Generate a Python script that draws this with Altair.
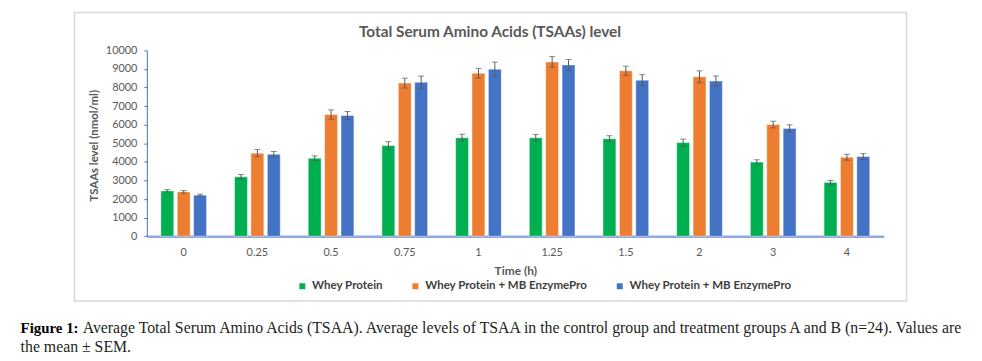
import altair as alt
import pandas as pd

# ---------------- data ----------------
times = ["0", "0.25", "0.5", "0.75", "1", "1.25", "1.5", "2", "3", "4"]
groups = ["Control", "Group A", "Group B"]
legend_names = ["Whey Protein", "Whey Protein + MB EnzymePro", "Whey Protein + MB EnzymePro"]
colors = ["#00B050", "#ED7D31", "#4472C4"]

whey = [2440, 3200, 4200, 4880, 5300, 5300, 5250, 5040, 3990, 2900]
whey_sem = [70, 125, 125, 210, 190, 180, 160, 190, 125, 100]
mb_a = [2390, 4470, 6550, 8240, 8770, 9380, 8900, 8580, 6010, 4250]
mb_a_sem = [70, 195, 250, 265, 265, 285, 250, 320, 180, 160]
mb_b = [2210, 4410, 6500, 8290, 8990, 9220, 8400, 8350, 5800, 4290]
mb_b_sem = [55, 150, 210, 330, 380, 295, 295, 275, 195, 160]
y_ticks = [0, 1000, 2000, 3000, 4000, 5000, 6000, 7000, 8000, 9000, 10000]

title_text = "Total Serum Amino Acids (TSAAs) level"
y_title = "TSAAs level (nmol/ml)"
x_title = "Time (h)"
caption_bold = "Figure 1:"
caption_line1 = ("Average Total Serum Amino Acids (TSAA). Average levels of TSAA in the control "
                 "group and treatment groups A and B (n=24). Values are")
caption_line2 = "the mean \u00b1 SEM."

rows = []
for g, vals, sems in zip(groups, [whey, mb_a, mb_b], [whey_sem, mb_a_sem, mb_b_sem]):
    for t, v, s in zip(times, vals, sems):
        rows.append({"time": t, "group": g, "value": v, "lo": v - s, "hi": v + s})
df = pd.DataFrame(rows)

FONT = "Lato"
SERIF = "Liberation Serif"

label_expr = " : ".join(
    f"datum.label == '{g}' ? '{n}'" for g, n in zip(groups[:-1], legend_names[:-1])
) + f" : '{legend_names[-1]}'"

x_axis = alt.Axis(title=x_title, labelAngle=0, tickSize=0, labelPadding=10,
                  domainColor="#8FAADC", domainWidth=2.5,
                  labelColor="#595959", labelFont=FONT, labelFontSize=11,
                  titleFont=FONT, titleFontSize=12, titleFontWeight="bold",
                  titleColor="#595959", titleY=35, titleBaseline="middle")
y_axis = alt.Axis(title=y_title, values=y_ticks, format="d", labelOverlap=False,
                  grid=False,
                  domainColor="#4472C4", tickColor="#4472C4", tickSize=3,
                  labelPadding=7, labelColor="#595959", labelFont=FONT,
                  labelFontSize=11, titleFont=FONT, titleFontSize=11.5,
                  titleFontWeight="bold", titleColor="#595959",
                  titleX=-53, titleY=95.7, titleAngle=270,
                  titleAlign="center", titleBaseline="middle")

x_enc = alt.X("time:N", sort=times,
              scale=alt.Scale(paddingInner=0.38, paddingOuter=0.19), axis=x_axis)
xo_enc = alt.XOffset("group:N", sort=groups,
                     scale=alt.Scale(paddingInner=0.212, paddingOuter=0))
y_scale = alt.Scale(domain=[0, 10000], nice=False)

base = alt.Chart(df)

bars = base.mark_bar(stroke="white", strokeOpacity=0.45, strokeWidth=1).encode(
    x=x_enc,
    xOffset=xo_enc,
    y=alt.Y("value:Q", scale=y_scale, axis=y_axis),
    color=alt.Color("group:N", sort=groups,
                    scale=alt.Scale(domain=groups, range=colors),
                    legend=alt.Legend(title=None, orient="none", direction="horizontal",
                                      legendX=151, legendY=231.7,
                                      symbolType="square", symbolSize=36,
                                      symbolStrokeWidth=0, labelOffset=4,
                                      columnPadding=27, labelFont=FONT, labelLimit=400,
                                      labelFontSize=11.6, labelFontWeight="bold",
                                      labelColor="#404040", labelExpr=label_expr)),
)

err = base.mark_rule(color="#595959", strokeWidth=1).encode(
    x=x_enc, xOffset=xo_enc,
    y=alt.Y("lo:Q", scale=y_scale, axis=y_axis), y2="hi:Q",
)
cap_lo = base.mark_tick(color="#595959", size=6, thickness=1).encode(
    x=x_enc, xOffset=xo_enc, y=alt.Y("lo:Q", scale=y_scale, axis=y_axis),
)
cap_hi = base.mark_tick(color="#595959", size=6, thickness=1).encode(
    x=x_enc, xOffset=xo_enc, y=alt.Y("hi:Q", scale=y_scale, axis=y_axis),
)

one = alt.Data(values=[{"k": 1}])
frame = alt.Chart(one).mark_rect(filled=False, stroke="#D9D9D9", strokeWidth=1.5).encode(
    x=alt.value(-73), x2=alt.value(766), y=alt.value(-38.3), y2=alt.value(252.7)
)
title = alt.Chart(one).mark_text(
    text=title_text, font=FONT, fontSize=15.5, fontWeight="bold", color="#595959",
    align="center", baseline="alphabetic"
).encode(x=alt.value(346), y=alt.value(-13.8))

cap_b = alt.Chart(one).mark_text(
    text=caption_bold, font=SERIF, fontSize=15, fontWeight="bold",
    color="#000000", align="left", baseline="alphabetic"
).encode(x=alt.value(-127.3), y=alt.value(284.5))
cap_1 = alt.Chart(one).mark_text(
    text=caption_line1, font=SERIF, fontSize=15.95,
    color="#231F20", align="left", baseline="alphabetic"
).encode(x=alt.value(-64.7), y=alt.value(284.5))
cap_2 = alt.Chart(one).mark_text(
    text=caption_line2, font=SERIF, fontSize=15.95,
    color="#231F20", align="left", baseline="alphabetic"
).encode(x=alt.value(-127.3), y=alt.value(304))

chart = alt.layer(frame, bars, err, cap_lo, cap_hi, title, cap_b, cap_1, cap_2).properties(
    width=743, height=187.4,
    autosize=alt.AutoSizeParams(type="none"),
    padding={"left": 140, "top": 41.3, "right": 91, "bottom": 123},
).configure_view(stroke=None)

chart.save("out.html", embed_options={"renderer": "svg", "actions": False})
